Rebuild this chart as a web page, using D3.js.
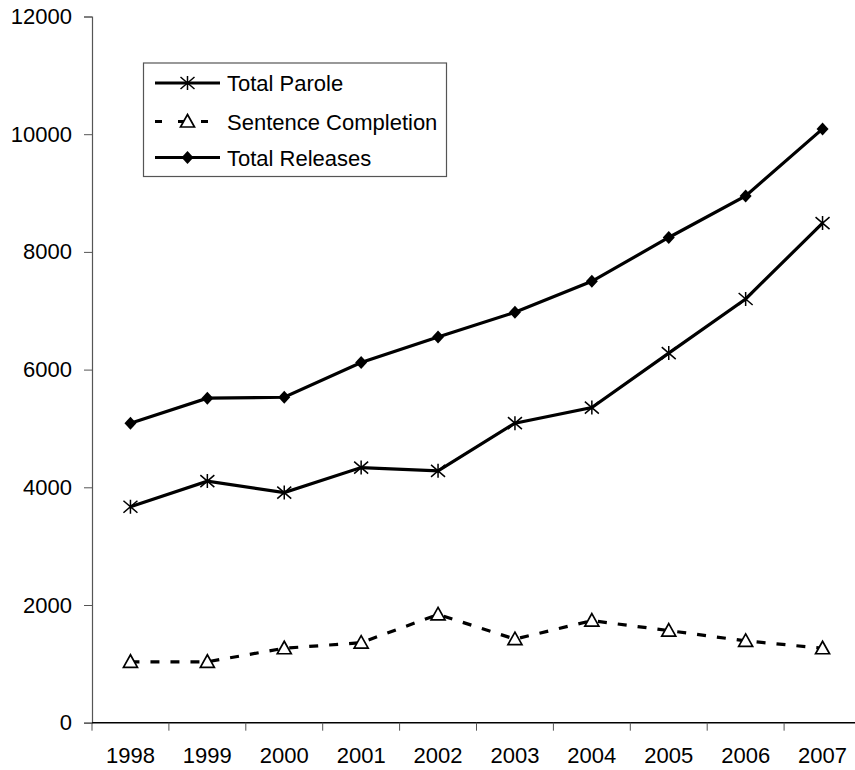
<!DOCTYPE html>
<html>
<head>
<meta charset="utf-8">
<script src="https://cdn.jsdelivr.net/npm/d3@7"></script>
<style>
  body { margin: 0; background: #fff; }
  svg { display: block; font-family: "Liberation Sans", Arial, sans-serif; }
</style>
</head>
<body>
<svg id="chart" width="855" height="770"></svg>
<script>
// chart data
const years = ["1998", "1999", "2000", "2001", "2002", "2003", "2004", "2005", "2006", "2007"];
const totalParole = [3670, 4105, 3910, 4335, 4280, 5090, 5355, 6280, 7200, 8490];
const sentenceCompletion = [1035, 1035, 1265, 1360, 1840, 1420, 1735, 1565, 1390, 1265];
const totalReleases = [5090, 5515, 5530, 6120, 6555, 6975, 7500, 8245, 8950, 10090];
const yTicks = [0, 2000, 4000, 6000, 8000, 10000, 12000];

const svg = d3.select("#chart");
const margin = {left: 92, top: 16.5, bottom: 722.7};
const plotRight = 861;

let x = d3.scaleBand().domain(years).range([margin.left, plotRight]);
let y = d3.scaleLinear().domain([0, 12000]).range([margin.bottom, margin.top]);

// y axis
let yAxis = svg.append("g")
    .attr("transform", "translate(" + margin.left + ",0)")
    .call(d3.axisLeft(y).tickValues(yTicks).tickSize(8).tickPadding(12).tickFormat(d3.format("d")));
yAxis.select(".domain").attr("stroke", "#555").attr("stroke-width", 1.2);
yAxis.selectAll(".tick line").attr("stroke", "#555");
yAxis.selectAll("text").attr("font-size", "22px").attr("fill", "#000");

// x axis, ticks between the categories
let xAxis = svg.append("g")
    .attr("transform", "translate(0," + margin.bottom + ")");
xAxis.append("line")
    .attr("x1", margin.left).attr("x2", plotRight)
    .attr("stroke", "#000").attr("stroke-width", 1.5);
xAxis.selectAll(".xtick")
    .data(years)
    .enter()
    .append("line")
    .attr("x1", d => x(d)).attr("x2", d => x(d))
    .attr("y1", 0).attr("y2", 8)
    .attr("stroke", "#555");
xAxis.selectAll(".xlab")
    .data(years)
    .enter()
    .append("text")
    .text(d => d)
    .attr("x", d => x(d) + x.bandwidth() / 2)
    .attr("y", 40)
    .attr("text-anchor", "middle")
    .attr("font-size", "22px")
    .attr("fill", "#000");

const line = d3.line()
    .x((d, i) => x(years[i]) + x.bandwidth() / 2)
    .y(d => y(d));

const series = [
    {name: "Total Parole", values: totalParole, dash: null, marker: "star"},
    {name: "Sentence Completion", values: sentenceCompletion, dash: "9,11", marker: "triangle"},
    {name: "Total Releases", values: totalReleases, dash: null, marker: "diamond"}
];

function drawMarker(g, type) {
    if (type == "star") {
        g.append("path")
            .attr("d", "M-7,-6L7,6M-7,6L7,-6M0,-7L0,7")
            .attr("stroke", "#000").attr("stroke-width", 1.5).attr("fill", "none");
    } else if (type == "triangle") {
        g.append("path")
            .attr("d", "M0,-7L7,5.5L-7,5.5Z")
            .attr("stroke", "#000").attr("stroke-width", 1.7).attr("fill", "#fff");
    } else {
        g.append("path")
            .attr("d", "M0,-6.5L6,0L0,6.5L-6,0Z")
            .attr("fill", "#000");
    }
}

series.forEach(function(s) {
    svg.append("path")
        .datum(s.values)
        .attr("d", line)
        .attr("fill", "none")
        .attr("stroke", "#000")
        .attr("stroke-width", 3.2)
        .attr("stroke-dasharray", s.dash);

    s.values.forEach(function(v, i) {
        let g = svg.append("g")
            .attr("transform", "translate(" + (x(years[i]) + x.bandwidth() / 2) + "," + y(v) + ")");
        drawMarker(g, s.marker);
    });
});

// legend
let legend = svg.append("g");
legend.append("rect")
    .attr("x", 143.5).attr("y", 63)
    .attr("width", 303).attr("height", 113.5)
    .attr("fill", "#fff").attr("stroke", "#555").attr("stroke-width", 1.2);

let rowY = [83, 121.5, 157.5];
series.forEach(function(s, i) {
    legend.append("line")
        .attr("x1", 155).attr("x2", 220)
        .attr("y1", rowY[i]).attr("y2", rowY[i])
        .attr("stroke", "#000").attr("stroke-width", 3.2)
        .attr("stroke-dasharray", s.dash ? "7,16" : null);
    let g = legend.append("g").attr("transform", "translate(187.5," + rowY[i] + ")");
    drawMarker(g, s.marker);
    legend.append("text")
        .text(s.name)
        .attr("x", 227)
        .attr("y", rowY[i] + 8)
        .attr("font-size", "22px")
        .attr("fill", "#000");
});
</script>
</body>
</html>
